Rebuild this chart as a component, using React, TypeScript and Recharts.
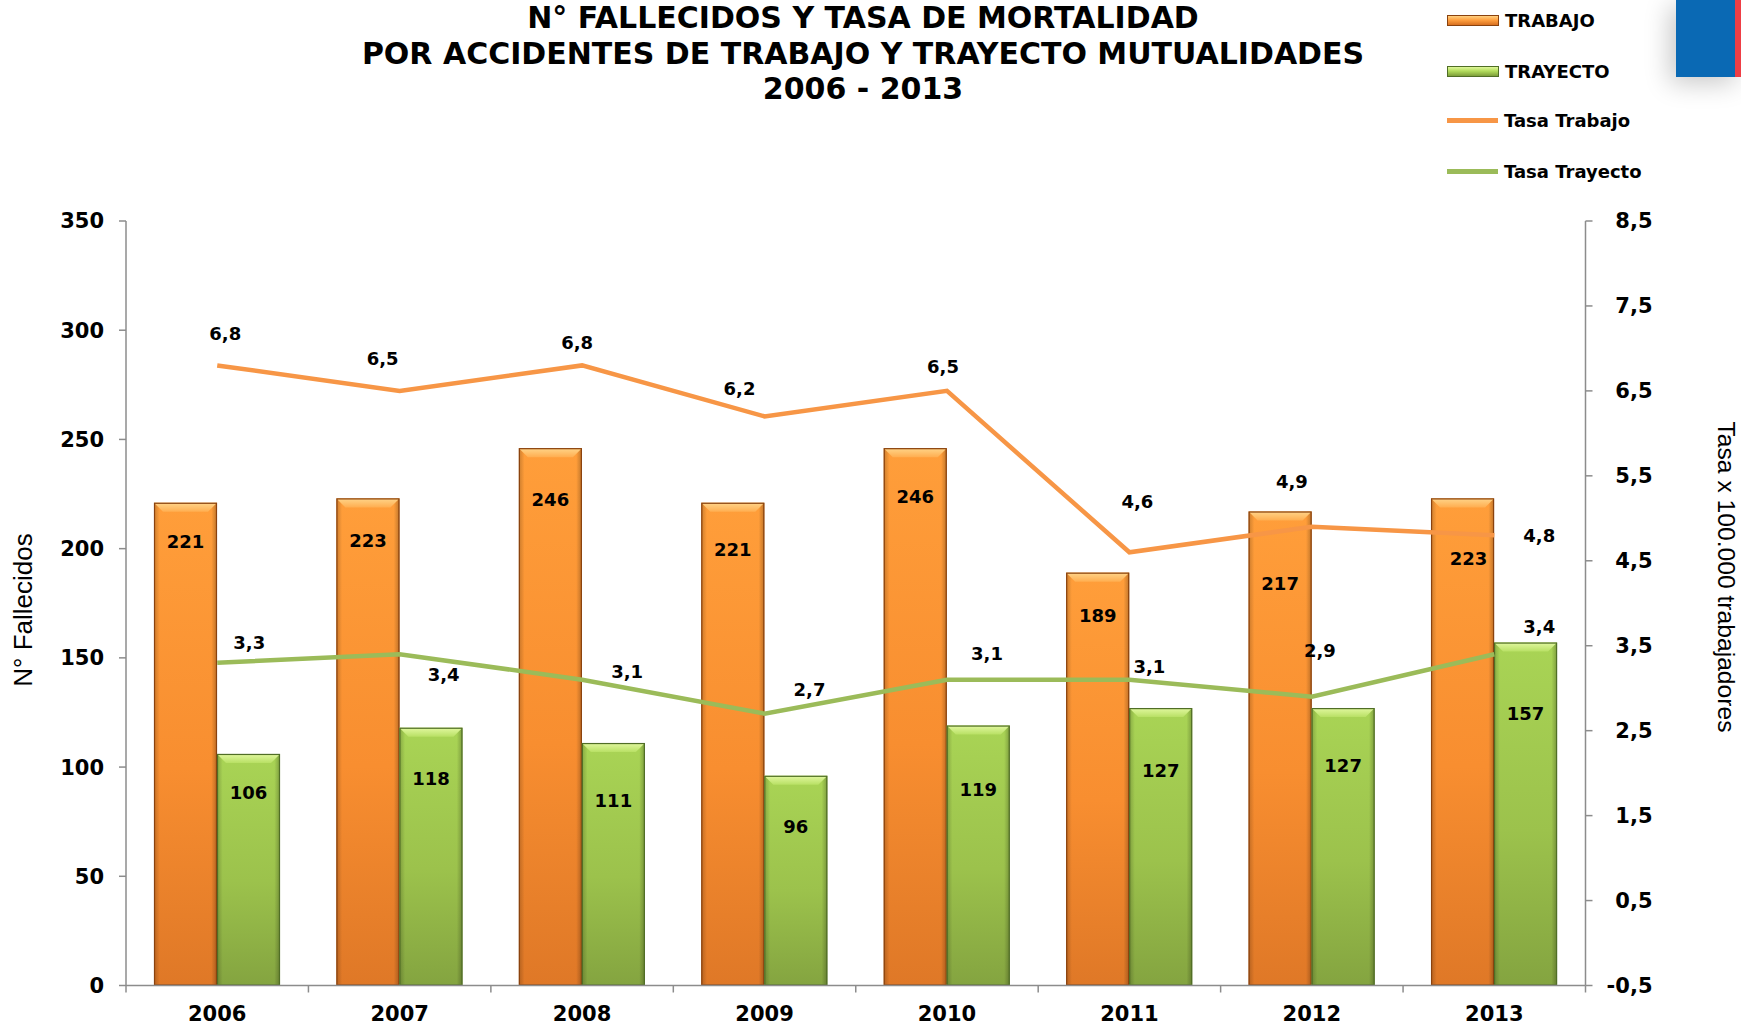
import React from "react";
import {
  ComposedChart,
  Bar,
  Line,
  XAxis,
  YAxis,
  LabelList,
} from "recharts";

// --- data ---
const years = ["2006", "2007", "2008", "2009", "2010", "2011", "2012", "2013"];
const trabajo = [221, 223, 246, 221, 246, 189, 217, 223];
const trayecto = [106, 118, 111, 96, 119, 127, 127, 157];
const tasaTrabajo = [6.8, 6.5, 6.8, 6.2, 6.5, 4.6, 4.9, 4.8];
const tasaTrayecto = [3.3, 3.4, 3.1, 2.7, 3.1, 3.1, 2.9, 3.4];
const leftTicks = [0, 50, 100, 150, 200, 250, 300, 350];
const rightTicks = [-0.5, 0.5, 1.5, 2.5, 3.5, 4.5, 5.5, 6.5, 7.5, 8.5];

// --- layout (label nudges were placed by hand in the original) ---
const W = 1741;
const H = 1026;
const PLOT_LEFT = 126;
const PLOT_RIGHT = 1585.5;
const PLOT_TOP = 221;
const PLOT_BOTTOM = 985.5;
const BAND = (PLOT_RIGHT - PLOT_LEFT) / years.length;

const trabajoLabelDrop = [39, 42, 51, 47, 48, 43, 72, 60];
const trayectoLabelDrop = [39, 51, 57, 51, 64, 62, 57, 71];
const trabajoLabelShift = [0, 0, 0, 0, 0, 0, 0, 6];
const tasaTrabajoNudge = [
  [8, -32], [-17, -32], [-5, -23], [-25, -28], [-4, -24], [8, -51], [-20, -45], [45, 0],
];
const tasaTrayectoNudge = [
  [32, -20], [44, 20], [45, -8], [45, -24], [40, -26], [20, -13], [8, -46], [45, -28],
];

const ORANGE_LINE = "#F79646";
const GREEN_LINE = "#9BBB59";
const AXIS = "#8c8c8c";
const BOLD = "'DejaVu Sans', Verdana, sans-serif";

const data = years.map((year, i) => ({
  year,
  trabajo: trabajo[i],
  trayecto: trayecto[i],
  tasaTrabajo: tasaTrabajo[i],
  tasaTrayecto: tasaTrayecto[i],
}));

const fmt = (v: number) => v.toFixed(1).replace(".", ",");

const edge = { o: "#8a420e", g: "#506e26" };

function makeBevelBar(kind: "o" | "g") {
  return (props: any) => {
    const { x, y, width, height } = props;
    if (!height || height <= 0) return <g />;
    const b = Math.min(9, height / 2);
    return (
      <g>
        <rect x={x} y={y} width={width} height={height} fill={`url(#${kind}-body)`} />
        <rect x={x} y={y} width={width} height={height} fill="url(#side-shade)" />
        <polygon
          points={`${x},${y} ${x + width},${y} ${x + width - b},${y + b} ${x + b},${y + b}`}
          fill={`url(#${kind}-top)`}
        />
        <rect
          x={x + 0.5}
          y={y + 0.5}
          width={width - 1}
          height={height - 1}
          fill="none"
          stroke={edge[kind]}
          strokeWidth={1.2}
        />
      </g>
    );
  };
}

function barLabel(drops: number[], shifts?: number[]) {
  return (props: any) => {
    const { x, y, width, value, index } = props;
    return (
      <text
        x={x + width / 2 + (shifts ? shifts[index] : 0)}
        y={y + drops[index]}
        textAnchor="middle"
        dominantBaseline="central"
        fontFamily={BOLD}
        fontWeight="bold"
        fontSize={18}
        fill="#000"
      >
        {value}
      </text>
    );
  };
}

function lineLabel(nudges: number[][]) {
  return (props: any) => {
    const { x, y, value, index } = props;
    return (
      <text
        x={x + nudges[index][0]}
        y={y + nudges[index][1]}
        textAnchor="middle"
        dominantBaseline="central"
        fontFamily={BOLD}
        fontWeight="bold"
        fontSize={18}
        fill="#000"
      >
        {fmt(value)}
      </text>
    );
  };
}

function YearTick(props: any) {
  const { x, payload, index } = props;
  const last = index === years.length - 1;
  return (
    <g>
      <line x1={x - BAND / 2} x2={x - BAND / 2} y1={PLOT_BOTTOM} y2={PLOT_BOTTOM + 7} stroke={AXIS} strokeWidth={1.5} />
      {last && (
        <line x1={x + BAND / 2} x2={x + BAND / 2} y1={PLOT_BOTTOM} y2={PLOT_BOTTOM + 7} stroke={AXIS} strokeWidth={1.5} />
      )}
      <text
        x={x}
        y={PLOT_BOTTOM + 28}
        textAnchor="middle"
        dominantBaseline="central"
        fontFamily={BOLD}
        fontWeight="bold"
        fontSize={21}
        fill="#000"
      >
        {payload.value}
      </text>
    </g>
  );
}

function RightTick(props: any) {
  const { y, payload } = props;
  return (
    <text
      x={PLOT_RIGHT + 67}
      y={y}
      textAnchor="end"
      dominantBaseline="central"
      fontFamily={BOLD}
      fontWeight="bold"
      fontSize={21}
      fill="#000"
    >
      {fmt(payload.value)}
    </text>
  );
}

function LegendIcon({ kind }: { kind: "o" | "g" | "lo" | "lg" }) {
  if (kind === "lo" || kind === "lg") {
    return (
      <span
        style={{
          display: "inline-block",
          width: 51,
          height: 5,
          background: kind === "lo" ? ORANGE_LINE : GREEN_LINE,
        }}
      />
    );
  }
  const bg =
    kind === "o"
      ? "linear-gradient(#ffd080, #ffa040 45%, #d87020)"
      : "linear-gradient(#e0f79a, #b2dc5c 45%, #7d9e3a)";
  return (
    <span
      style={{
        display: "inline-block",
        width: 50,
        height: 9,
        background: bg,
        border: `1px solid ${edge[kind]}`,
      }}
    />
  );
}

const legendItems: { label: string; kind: "o" | "g" | "lo" | "lg" }[] = [
  { label: "TRABAJO", kind: "o" },
  { label: "TRAYECTO", kind: "g" },
  { label: "Tasa Trabajo", kind: "lo" },
  { label: "Tasa Trayecto", kind: "lg" },
];

export default function App() {
  return (
    <div
      style={{
        position: "absolute",
        left: 0,
        top: 0,
        width: W,
        height: H,
        background: "#fff",
        overflow: "hidden",
      }}
    >
      <div
        style={{
          position: "absolute",
          left: 0,
          top: 0,
          width: 1726,
          textAlign: "center",
          fontFamily: BOLD,
          fontWeight: "bold",
          fontSize: 30,
          lineHeight: "35.5px",
          color: "#000",
        }}
      >
        N° FALLECIDOS Y TASA DE MORTALIDAD
        <br />
        POR ACCIDENTES DE TRABAJO Y TRAYECTO MUTUALIDADES
        <br />
        2006 - 2013
      </div>

      {/* flag corner */}
      <div
        style={{
          position: "absolute",
          left: 1676,
          top: 0,
          width: 65,
          height: 77,
          boxShadow: "-6px 6px 26px rgba(0,0,0,0.22)",
          display: "flex",
        }}
      >
        <div style={{ width: 59, height: 77, background: "#0a69b4" }} />
        <div style={{ width: 6, height: 77, background: "#ef3e45" }} />
      </div>

      <ul
        style={{
          position: "absolute",
          left: 1447,
          top: 0,
          margin: 0,
          padding: 0,
          listStyle: "none",
          fontFamily: BOLD,
          fontWeight: "bold",
          fontSize: 18,
          color: "#000",
        }}
      >
        {legendItems.map((it, i) => (
          <li
            key={it.label}
            style={{
              position: "absolute",
              top: [20, 71, 120, 171][i] - 12,
              height: 24,
              display: "flex",
              alignItems: "center",
              gap: 6,
              whiteSpace: "nowrap",
            }}
          >
            <LegendIcon kind={it.kind} />
            {it.label}
          </li>
        ))}
      </ul>

      <div style={{ position: "absolute", left: 0, top: 0 }}>
        <ComposedChart
          width={W}
          height={H}
          data={data}
          margin={{ top: PLOT_TOP, right: 0, bottom: 0, left: 0 }}
          barGap={0}
        >
          <defs>
            <linearGradient id="o-body" x1="0" y1="0" x2="0" y2="1">
              <stop offset="0%" stopColor="#ff9e3a" />
              <stop offset="55%" stopColor="#f88e30" />
              <stop offset="100%" stopColor="#df7827" />
            </linearGradient>
            <linearGradient id="g-body" x1="0" y1="0" x2="0" y2="1">
              <stop offset="0%" stopColor="#a9d455" />
              <stop offset="55%" stopColor="#9cc24c" />
              <stop offset="100%" stopColor="#84a440" />
            </linearGradient>
            <linearGradient id="o-top" x1="0" y1="0" x2="0" y2="1">
              <stop offset="0%" stopColor="#ffd58a" />
              <stop offset="100%" stopColor="#ffae50" />
            </linearGradient>
            <linearGradient id="g-top" x1="0" y1="0" x2="0" y2="1">
              <stop offset="0%" stopColor="#e2f8a0" />
              <stop offset="100%" stopColor="#b8e064" />
            </linearGradient>
            <linearGradient id="side-shade" x1="0" y1="0" x2="1" y2="0">
              <stop offset="0%" stopColor="#000" stopOpacity={0.2} />
              <stop offset="9%" stopColor="#000" stopOpacity={0} />
              <stop offset="91%" stopColor="#000" stopOpacity={0} />
              <stop offset="100%" stopColor="#000" stopOpacity={0.25} />
            </linearGradient>
          </defs>

          <XAxis
            dataKey="year"
            interval={0}
            height={H - PLOT_BOTTOM}
            stroke={AXIS}
            strokeWidth={1.5}
            tickLine={false}
            tick={<YearTick />}
          />
          <YAxis
            yAxisId="left"
            orientation="left"
            width={PLOT_LEFT}
            domain={[0, 350]}
            ticks={leftTicks}
            interval={0}
            stroke={AXIS}
            strokeWidth={1.5}
            tickSize={7}
            tickMargin={15}
            tick={{ fontFamily: BOLD, fontWeight: "bold", fontSize: 21, fill: "#000" }}
            label={{
              content: () => (
                <text
                  x={23}
                  y={610}
                  transform="rotate(-90 23 610)"
                  textAnchor="middle"
                  dominantBaseline="central"
                  fontFamily="'Liberation Sans', Arial, sans-serif"
                  fontSize={26}
                  fill="#000"
                >
                  N° Fallecidos
                </text>
              ),
            }}
          />
          <YAxis
            yAxisId="right"
            orientation="right"
            width={W - PLOT_RIGHT}
            domain={[-0.5, 8.5]}
            ticks={rightTicks}
            interval={0}
            stroke={AXIS}
            strokeWidth={1.5}
            tickSize={7}
            tick={<RightTick />}
            label={{
              content: () => (
                <text
                  x={1726}
                  y={577}
                  transform="rotate(90 1726 577)"
                  textAnchor="middle"
                  dominantBaseline="central"
                  fontFamily="'Liberation Sans Narrow', 'Liberation Sans', Arial, sans-serif"
                  fontSize={24}
                  textLength={311}
                  lengthAdjust="spacingAndGlyphs"
                  fill="#000"
                >
                  Tasa x 100.000 trabajadores
                </text>
              ),
            }}
          />

          <Bar
            yAxisId="left"
            dataKey="trabajo"
            name="TRABAJO"
            barSize={63}
            shape={makeBevelBar("o")}
            isAnimationActive={false}
          >
            <LabelList dataKey="trabajo" content={barLabel(trabajoLabelDrop, trabajoLabelShift)} />
          </Bar>
          <Bar
            yAxisId="left"
            dataKey="trayecto"
            name="TRAYECTO"
            barSize={63}
            shape={makeBevelBar("g")}
            isAnimationActive={false}
          >
            <LabelList dataKey="trayecto" content={barLabel(trayectoLabelDrop)} />
          </Bar>
          <Line
            yAxisId="right"
            type="linear"
            dataKey="tasaTrabajo"
            name="Tasa Trabajo"
            stroke={ORANGE_LINE}
            strokeWidth={4.5}
            dot={false}
            activeDot={false}
            isAnimationActive={false}
          >
            <LabelList dataKey="tasaTrabajo" content={lineLabel(tasaTrabajoNudge)} />
          </Line>
          <Line
            yAxisId="right"
            type="linear"
            dataKey="tasaTrayecto"
            name="Tasa Trayecto"
            stroke={GREEN_LINE}
            strokeWidth={4.5}
            dot={false}
            activeDot={false}
            isAnimationActive={false}
          >
            <LabelList dataKey="tasaTrayecto" content={lineLabel(tasaTrayectoNudge)} />
          </Line>
        </ComposedChart>
      </div>
    </div>
  );
}
